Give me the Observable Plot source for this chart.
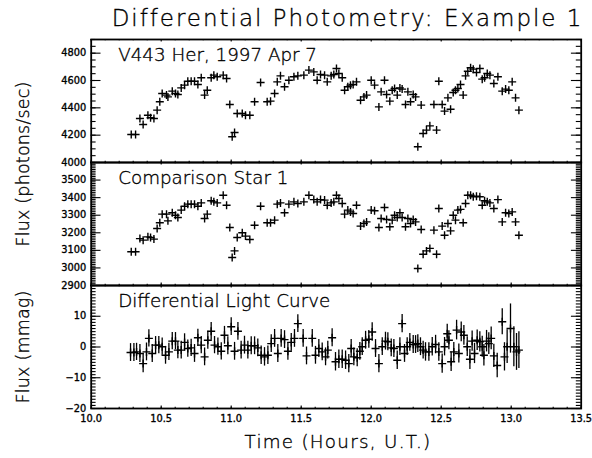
<!DOCTYPE html>
<html><head><meta charset="utf-8">
<script src="https://cdn.jsdelivr.net/npm/d3@7"></script>
<script src="https://cdn.jsdelivr.net/npm/@observablehq/plot@0.6"></script>
<style>
body{margin:0;background:#fff;}
#chart{position:relative;width:592px;height:458px;overflow:hidden;font-family:"DejaVu Sans",sans-serif;color:#000;background:#fff;}
.t{position:absolute;white-space:nowrap;line-height:1;font-weight:200;-webkit-text-stroke:0.35px #000;}
.panel{position:absolute;left:0;}
g[aria-label="panel-title"] text{letter-spacing:0.8px;}
</style></head><body>
<div id="chart">
  <div class="t" id="title" data-w="471" style="left:347.5px;top:7.2px;font-size:23px;transform:translateX(-50%);">Differential Photometry: Example 1</div>
  <div class="t" style="left:24px;top:164px;font-size:17.5px;letter-spacing:0.2px;transform:translate(-50%,-50%) rotate(-90deg);">Flux (photons/sec)</div>
  <div class="t" style="left:24px;top:347px;font-size:17.5px;letter-spacing:0.2px;transform:translate(-50%,-50%) rotate(-90deg);">Flux (mmag)</div>
  <div class="t" id="xtitle" data-w="187" style="left:338px;top:433px;font-size:18.3px;transform:translateX(-50%);">Time (Hours, U.T.)</div>
</div>
<script>
// ---------- data ----------
const time = [
10.286,10.317,10.348,10.371,10.405,10.424,10.448,10.471,10.490,10.507,
10.538,10.548,10.579,10.602,10.619,10.643,10.667,10.690,10.714,10.738,
10.762,10.786,10.810,10.829,10.857,10.876,10.900,10.943,10.967,10.990,
11.007,11.024,11.043,11.079,11.102,11.133,11.167,11.210,11.257,11.281,
11.310,11.329,11.352,11.381,11.412,11.448,11.476,
11.519,11.555,11.590,11.614,11.638,11.667,11.686,11.714,11.733,11.752,
11.769,11.793,11.810,11.833,11.852,11.871,11.895,11.924,11.948,11.967,
12.000,12.024,12.055,12.071,12.095,12.110,12.133,12.150,12.167,12.186,
12.205,12.221,12.245,12.262,12.281,12.300,12.317,12.333,12.357,12.371,
12.395,12.419,12.448,12.467,12.483,12.507,12.524,12.548,12.567,12.586,
12.602,12.619,12.638,12.657,12.674,12.690,12.710,12.729,12.752,12.776,
12.793,12.810,12.829,12.848,12.876,12.905,12.936,12.960,12.983,13.007,
13.031,13.055];

const fluxV443 = [
4205,4205,4322,4278,4346,4327,4322,4383,4444,4505,
4493,4480,4522,4505,4498,4546,4566,4595,4595,4595,
4571,4620,4493,4529,4620,4639,4627,4639,4615,4424,
4188,4220,4359,4359,4346,4346,4444,4585,4444,4449,
4505,4590,4634,4554,4602,4627,4634,
4639,4676,4663,4602,4644,4639,4590,4634,4644,4688,
4651,4620,4529,4554,4566,4571,4590,4456,4480,4493,
4602,4566,4407,4517,4602,4498,4449,4529,4541,4493,
4546,4537,4424,4517,4444,4498,4480,4115,4420,4212,
4237,4268,4424,4237,4595,4424,4376,4473,4390,4512,
4529,4541,4571,4493,4634,4668,4693,4683,4659,4688,
4610,4620,4651,4639,4578,4627,4522,4537,4529,4590,
4473,4383];

const fluxComp = [
3092,3092,3167,3158,3177,3173,3164,3224,3257,3306,
3306,3268,3314,3300,3287,3329,3351,3363,3363,3363,
3351,3370,3281,3306,3382,3376,3370,3414,3357,3230,
3059,3097,3173,3200,3181,3162,3243,3351,3257,3257,
3272,3363,3370,3314,3363,3376,3367,
3376,3414,3389,3376,3389,3386,3357,3370,3376,3414,
3395,3367,3306,3329,3319,3310,3357,3238,3253,3262,
3329,3325,3230,3281,3344,3276,3234,3272,3300,3287,
3314,3287,3234,3281,3253,3276,3262,2997,3219,3078,
3097,3111,3215,3078,3338,3238,3186,3253,3211,3300,
3272,3329,3333,3257,3367,3414,3414,3405,3408,3405,
3357,3382,3376,3370,3338,3389,3262,3314,3310,3319,
3262,3186];

const diffTime = [
10.281,10.305,10.324,10.348,10.371,10.395,10.412,10.436,10.460,10.483,
10.507,10.531,10.555,10.579,10.602,10.619,10.643,10.667,10.690,10.714,
10.738,10.762,10.786,10.810,10.833,10.857,10.881,10.905,10.929,10.952,
10.976,11.000,11.024,11.048,11.071,11.095,11.119,11.143,11.167,11.190,
11.214,11.238,11.262,11.286,11.310,11.333,11.357,11.381,11.405,11.429,
11.452,11.476,
11.514,11.538,11.579,11.602,11.626,11.650,11.674,11.690,11.721,11.745,
11.769,11.793,11.817,11.840,11.857,11.876,11.900,11.919,11.936,11.960,
11.983,12.007,12.031,12.055,12.079,12.102,12.119,12.143,12.162,12.186,
12.205,12.221,12.238,12.257,12.276,12.300,12.317,12.333,12.352,12.371,
12.388,12.412,12.436,12.460,12.483,12.507,12.524,12.543,12.555,12.571,
12.590,12.610,12.626,12.643,12.662,12.686,12.705,12.721,12.738,12.757,
12.776,12.793,12.805,12.824,12.840,12.857,12.876,12.900,12.936,12.952,
12.971,12.995,13.019,13.038,13.055];

const diffMmag = [
-1.8,-1.8,-1.6,-2.1,-5.4,-1.6,2.8,-2.1,0.6,0.6,
0.1,-2.7,-1.6,1.9,1.9,-1.0,-1.0,1.5,-0.5,-0.3,
-2.1,3.0,0.6,-3.2,2.2,5.1,0.6,0.1,-1.4,3.8,
0.4,6.6,-1.4,5.1,-1.0,0.6,-1.0,0.4,0.4,-0.3,
-2.7,-3.2,-2.7,1.1,2.8,-2.1,2.8,2.4,-1.4,1.5,
2.8,7.6,
2.8,-2.9,2.8,-2.7,-0.5,-1.6,-3.2,-1.0,3.0,-4.8,
-4.0,-4.0,-4.3,-5.4,-0.5,-3.2,-3.5,-1.4,0.1,2.2,
2.5,4.9,-0.5,-5.4,0.1,1.9,1.7,-0.3,-0.5,-4.3,
0.1,7.6,-2.1,0.1,1.5,0.8,0.8,1.1,0.1,-1.0,
-1.6,-1.6,0.1,0.8,-1.6,-5.4,0.1,4.3,2.2,-4.8,
-1.6,5.5,-2.1,4.9,3.8,0.1,-4.0,1.9,-2.1,2.2,
1.7,0.1,-2.7,1.9,1.1,2.8,-2.9,-6.0,8.2,-3.2,
0.1,6.0,0.1,-1.6,-1.0];

const diffErr = [
2.9,2.9,2.8,2.9,3.0,2.9,2.8,2.9,2.8,2.8,
2.8,2.9,2.8,2.8,2.8,2.8,2.9,2.8,2.8,2.8,
2.9,2.8,2.8,2.9,2.9,2.9,2.8,2.8,2.8,2.9,
2.9,2.9,2.9,2.9,2.9,2.9,2.9,2.9,2.9,2.9,
3.0,3.0,3.0,2.9,2.9,2.9,2.9,2.9,2.9,2.9,
2.9,2.9,
2.9,2.9,2.9,2.9,2.9,2.9,2.9,2.9,2.9,3.0,
3.0,3.0,3.0,3.0,2.9,2.9,2.9,2.9,2.9,2.9,
2.9,3.0,2.9,3.0,2.9,2.9,2.9,2.9,2.9,3.0,
2.9,3.0,2.9,2.9,2.9,2.9,2.9,2.9,2.9,2.9,
3.0,3.0,3.0,3.0,3.0,3.1,3.0,3.1,3.1,3.2,
3.1,3.2,3.1,3.2,3.2,3.2,3.3,3.3,3.3,3.3,
3.3,3.4,3.5,3.5,3.5,3.7,3.8,4.0,4.2,4.6,
5.5,8.0,6.5,6.0,6.0];

const xTickLabels = [10.0, 10.5, 11.0, 11.5, 12.0, 12.5, 13.0, 13.5];
const topTickLabels = [4000, 4200, 4400, 4600, 4800];
const midTickLabels = [2900, 3000, 3100, 3200, 3300, 3400, 3500];
const botTickLabels = [-20, -10, 0, 10];

const panelTitles = ["V443 Her, 1997 Apr 7", "Comparison Star 1", "Differential Light Curve"];

// ---------- text fitting (Hershey-like wide spacing) ----------
document.querySelectorAll(".t[data-w]").forEach(el => {
  el.style.letterSpacing = "0px";
  const w = el.offsetWidth, n = el.textContent.length;
  el.style.letterSpacing = ((+el.dataset.w - w) / n) + "px";
});

// ---------- layout ----------
const W = 592, ML = 90.7, MR = 11.3, PH = 123, PAD = 3;
const PW = W - ML - MR;
const panelTops = [39.3, 162.3, 285.3];
const FONT = "DejaVu Sans, sans-serif";

const plusSymbol = {
  draw(ctx, size) {
    const r = Math.sqrt(size / Math.PI);
    ctx.moveTo(-r, 0); ctx.lineTo(r, 0);
    ctx.moveTo(0, -r); ctx.lineTo(0, r);
  }
};

function steps(lo, hi, step) {
  const a = Math.ceil(lo / step - 1e-9), b = Math.floor(hi / step + 1e-9);
  return d3.range(a, b + 1).map(i => +(i * step).toFixed(6));
}

function tickMarks(yDomain, yMajor, yMinor) {
  const xMajor = steps(10, 13.5, 0.5), xMinor = steps(10, 13.5, 0.1);
  const yMaj = steps(yDomain[0], yDomain[1], yMajor), yMin = steps(yDomain[0], yDomain[1], yMinor);
  const s = {stroke: "black", strokeWidth: 1.1};
  const YL = 0.02 * PW, XL = 0.02 * PH;
  return [
    Plot.tickY(yMin, {y: d => d, insetRight: PW - YL / 2, ...s}),
    Plot.tickY(yMin, {y: d => d, insetLeft: PW - YL / 2, ...s}),
    Plot.tickY(yMaj, {y: d => d, insetRight: PW - YL, ...s}),
    Plot.tickY(yMaj, {y: d => d, insetLeft: PW - YL, ...s}),
    Plot.tickX(xMinor, {x: d => d, insetTop: PH - XL / 2, ...s}),
    Plot.tickX(xMinor, {x: d => d, insetBottom: PH - XL / 2, ...s}),
    Plot.tickX(xMajor, {x: d => d, insetTop: PH - XL, ...s}),
    Plot.tickX(xMajor, {x: d => d, insetBottom: PH - XL, ...s})
  ];
}

const labelStyle = {fontSize: 9.8, fontFamily: FONT, fill: "black", stroke: "black", strokeWidth: 0.35};

function yLabels(values, fmt) {
  return Plot.text(values, {y: d => d, text: fmt, frameAnchor: "left", textAnchor: "end", dx: -5, ...labelStyle});
}

function panelTitle(t) {
  return Plot.text([t], {text: d => d, frameAnchor: "top-left", textAnchor: "start", lineAnchor: "top",
    dx: 27, dy: 8, fontSize: 18.3, fontFamily: FONT, fontWeight: 200, fill: "black",
    stroke: "black", strokeWidth: 0.35, ariaLabel: "panel-title"});
}

const chart = document.getElementById("chart");
function place(svg, top) {
  svg.classList.add("panel");
  svg.style.top = (top - PAD) + "px";
  chart.appendChild(svg);
}

const idx = d3.range(time.length);
const didx = d3.range(diffTime.length);
const crossStyle = {symbol: plusSymbol, r: 4, stroke: "black", strokeWidth: 1.4, fill: "none"};

// Panel 1: V443 Her
place(Plot.plot({
  width: W, height: PH + 2 * PAD, marginLeft: ML, marginRight: MR, marginTop: PAD, marginBottom: PAD,
  style: {background: "transparent", overflow: "visible"},
  x: {domain: [10, 13.5], axis: null},
  y: {domain: [4000, 4900], axis: null},
  marks: [
    ...tickMarks([4000, 4900], 200, 50),
    Plot.dot(idx, {x: i => time[i], y: i => fluxV443[i], ...crossStyle}),
    yLabels(topTickLabels, d => String(d)),
    panelTitle(panelTitles[0]),
    Plot.frame({stroke: "black", strokeWidth: 1.8})
  ]
}), panelTops[0]);

// Panel 2: comparison star
place(Plot.plot({
  width: W, height: PH + 2 * PAD, marginLeft: ML, marginRight: MR, marginTop: PAD, marginBottom: PAD,
  style: {background: "transparent", overflow: "visible"},
  x: {domain: [10, 13.5], axis: null},
  y: {domain: [2900, 3600], axis: null},
  marks: [
    ...tickMarks([2900, 3600], 100, 10),
    Plot.dot(idx, {x: i => time[i], y: i => fluxComp[i], ...crossStyle}),
    yLabels(midTickLabels, d => String(d)),
    panelTitle(panelTitles[1]),
    Plot.frame({stroke: "black", strokeWidth: 1.8})
  ]
}), panelTops[1]);

// Panel 3: differential light curve
place(Plot.plot({
  width: W, height: PH + PAD + 30, marginLeft: ML, marginRight: MR, marginTop: PAD, marginBottom: 30,
  style: {background: "transparent", overflow: "visible"},
  x: {domain: [10, 13.5], axis: null},
  y: {domain: [-20, 20], axis: null},
  marks: [
    ...tickMarks([-20, 20], 10, 1),
    Plot.ruleX(didx, {x: i => diffTime[i], y1: i => diffMmag[i] - diffErr[i], y2: i => diffMmag[i] + diffErr[i], stroke: "black", strokeWidth: 1.3}),
    Plot.dot(didx, {x: i => diffTime[i], y: i => diffMmag[i], ...crossStyle}),
    yLabels(botTickLabels, d => d < 0 ? "\u2212" + Math.abs(d) : String(d)),
    Plot.text(xTickLabels, {x: d => d, text: d => d.toFixed(1), frameAnchor: "bottom", lineAnchor: "top", dy: 7, ...labelStyle}),
    panelTitle(panelTitles[2]),
    Plot.frame({stroke: "black", strokeWidth: 1.8})
  ]
}), panelTops[2]);
</script>
</body></html>
